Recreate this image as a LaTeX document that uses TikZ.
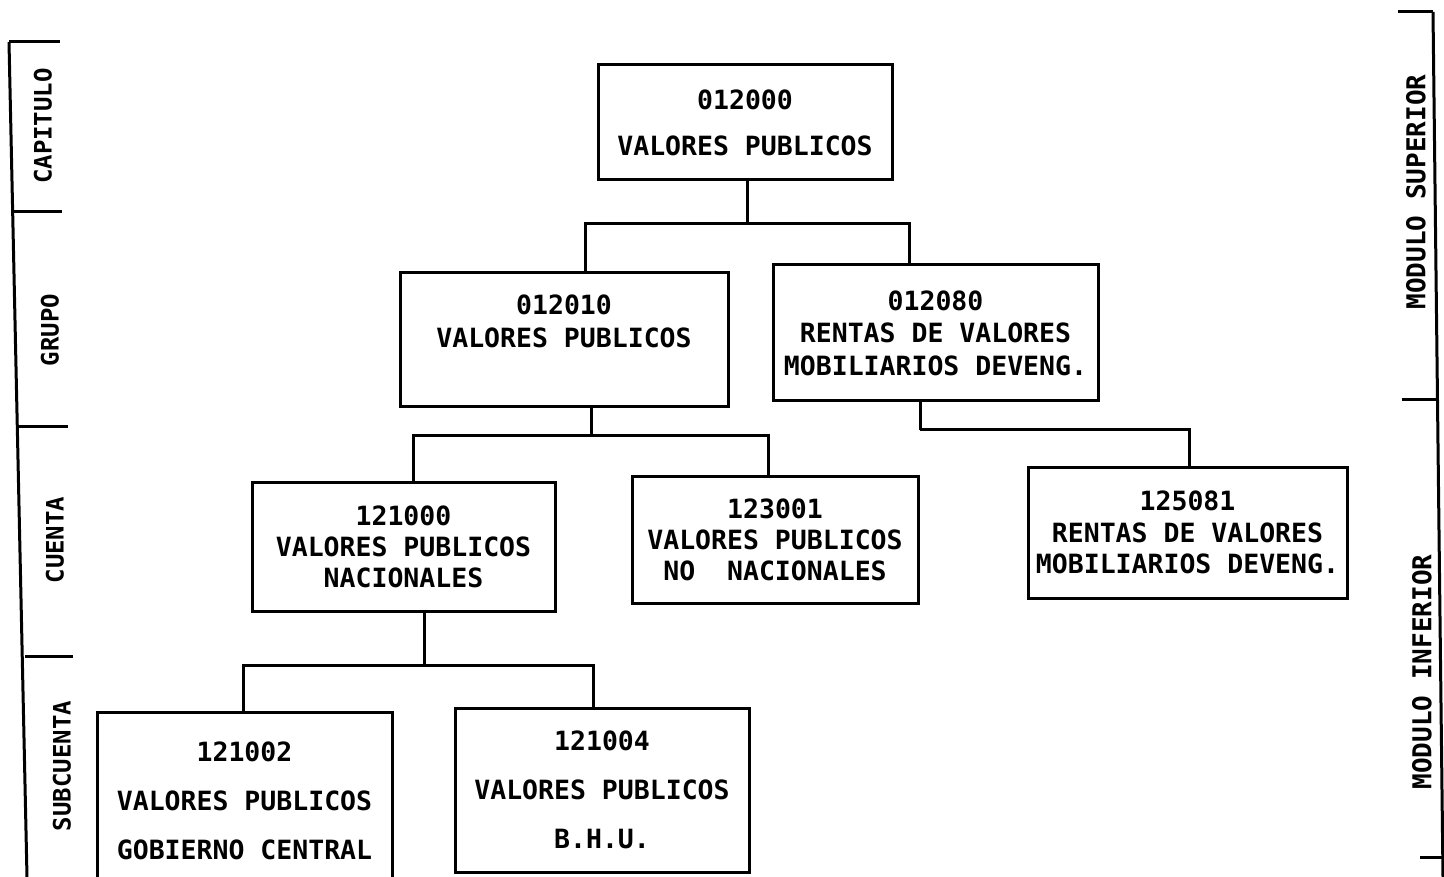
\documentclass[tikz,border=0pt]{standalone}
\usepackage{fontspec}
\setmonofont{DejaVu Sans Mono}
\begin{document}
\begin{tikzpicture}[x=1pt,y=-1pt,
  box/.style={draw, line width=3pt, inner sep=0pt, align=center, font=\ttfamily\bfseries\fontsize{26.5}{#1}\selectfont},
  box/.default=31,
  txt/.style={inner sep=0pt, align=center, font=\ttfamily\bfseries\fontsize{26.5}{#1}\selectfont},
  txt/.default=33,
  side/.style={inner sep=0pt, rotate=90, font=\ttfamily\bfseries\fontsize{24}{24}\selectfont},
  conn/.style={line width=3pt},
  rulerline/.style={line width=3pt}]
\useasboundingbox (0,0) rectangle (1444,877);
\fill[white] (0,0) rectangle (1444,877);

% boxes
\node[box=46, minimum width=294, minimum height=115] (A) at (745,122.5) {012000\\VALORES PUBLICOS};
\node[box, minimum width=328, minimum height=134] (B) at (564,340) {};
\node[txt=33] (Bt) at (564,321) {012010\\VALORES PUBLICOS};
\node[box=32.5, minimum width=325, minimum height=136] (C) at (935.5,333) {012080\\RENTAS DE VALORES\\MOBILIARIOS DEVENG.};
\node[box=31, minimum width=303, minimum height=129] (D) at (403.5,546.5) {121000\\VALORES PUBLICOS\\NACIONALES};
\node[box=31, minimum width=286, minimum height=127] (E) at (775,539.5) {123001\\VALORES PUBLICOS\\NO\ \ NACIONALES};
\node[box=31.5, minimum width=319, minimum height=131] (F) at (1187.5,532.5) {125081\\RENTAS DE VALORES\\MOBILIARIOS DEVENG.};
\node[box=49, minimum width=295, minimum height=177] (G) at (244.5,801) {121002\\VALORES PUBLICOS\\GOBIERNO CENTRAL};
\node[box=49, minimum width=294, minimum height=164] (H) at (602,790) {121004\\VALORES PUBLICOS\\B.H.U.};

% connectors
\draw[conn] ([xshift=2pt]A.south) -- ++(0,42) coordinate (j1);
\draw[conn] ([xshift=21pt]B.north) |- (j1) -| ([xshift=-26.5pt]C.north);
\draw[conn] ([xshift=27pt]B.south) -- ++(0,27) coordinate (j2);
\draw[conn] ([xshift=9.5pt]D.north) |- (j2) -| ([xshift=-7pt]E.north);
\draw[conn] ([xshift=-15.5pt]C.south) -- ++(0,27) coordinate (j3);
\draw[conn] (j3) -| ([xshift=1.5pt]F.north);
\draw[conn] ([xshift=20.5pt]D.south) -- ++(0,53) coordinate (j4);
\draw[conn] ([xshift=-1.5pt]G.north) |- (j4) -| ([xshift=-9pt]H.north);

% left scale
\draw[rulerline] (9,42) -- (27,877);
\draw[rulerline] (9,42) -- (60,42);
\draw[rulerline] (14,212) -- (62,212);
\draw[rulerline] (19,426) -- (68,426);
\draw[rulerline] (25,656) -- (73,656);
\node[side] (s1) at (43,126) {CAPITULO};
\node[side] (s2) at (50,330) {GRUPO};
\node[side] (s3) at (55,540) {CUENTA};
\node[side] (s4) at (62,766) {SUBCUENTA};

% right scale
\draw[rulerline] (1433,12) -- (1443,877);
\draw[rulerline] (1398,12) -- (1433,12);
\draw[rulerline] (1402,400) -- (1438,400);
\draw[rulerline] (1420,857) -- (1443,857);
\node[side, font=\ttfamily\bfseries\fontsize{26}{26}\selectfont] (m1) at (1416,192) {MODULO SUPERIOR};
\node[side, font=\ttfamily\bfseries\fontsize{26}{26}\selectfont] (m2) at (1422,672) {MODULO INFERIOR};
\end{tikzpicture}
\end{document}
